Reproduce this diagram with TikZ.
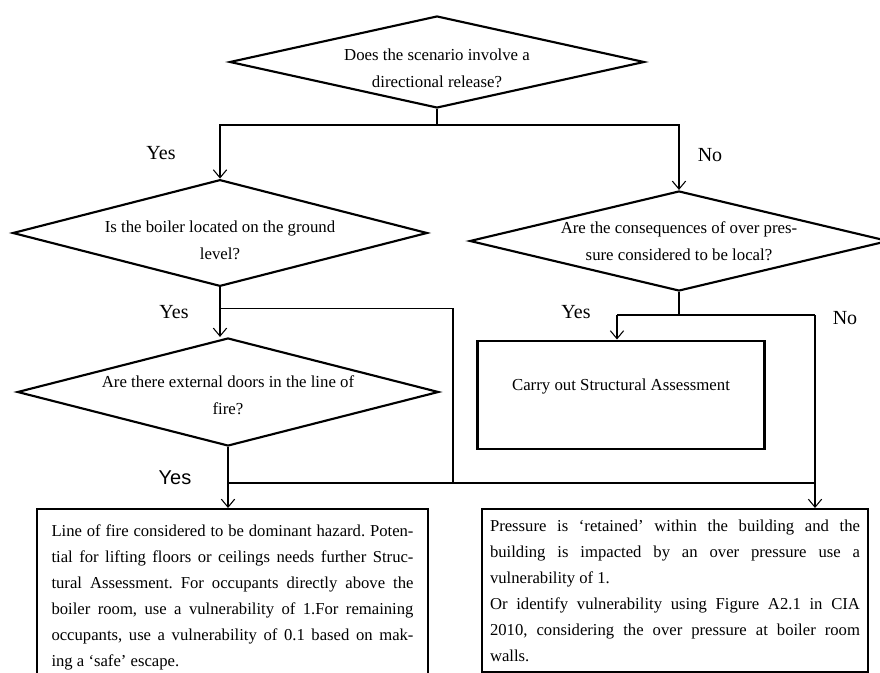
\documentclass[tikz,border=0pt]{standalone}
\usepackage{fontspec}
\setmainfont{Liberation Serif}
\newfontfamily\arialfont{Liberation Sans}
\usetikzlibrary{shapes.geometric, arrows.meta}

\begin{document}
\begin{tikzpicture}[x=0.75pt, y=-0.75pt, line width=0.8pt, >={Straight Barb[length=6pt, width=10pt]},
    decision/.style={diamond, draw, line width=1.6pt, aspect=4, inner xsep=-20pt, inner ysep=-6pt,
        align=center, font=\fontsize{12.6}{20}\selectfont},
    block/.style={rectangle, draw, line width=1.7pt, align=justify,
        font=\fontsize{12.5}{19.5}\selectfont\frenchspacing},
    answer/.style={font=\fontsize{15}{18}\selectfont}]
    \clip (0,0) rectangle (880,673);
    \fill[white] (0,0) rectangle (880,673);

    % questions
    \node[decision, minimum width=311pt, minimum height=69pt, text height=38pt] (d1) at (437,62)
        {Does the scenario involve a\\ directional release?};
    \node[decision, minimum width=311pt, minimum height=80pt, text height=39.5pt] (d2) at (220,233)
        {Is the boiler located on the ground\\ level?};
    \node[decision, minimum width=314pt, minimum height=75pt] (d3) at (679,241)
        {Are the consequences of over pres-\\ sure considered to be local?};
    \node[decision, minimum width=316pt, minimum height=81pt, text height=33.5pt] (d4) at (228,392)
        {Are there external doors in the line of\\ fire?};

    % outcomes
    \node[block, line width=2.2pt, align=center, minimum width=215pt, minimum height=81pt,
        text depth=15pt, font=\fontsize{12.6}{19.5}\selectfont] (carry) at (621,395) {Carry out Structural Assessment};
    \node[block, anchor=north, text width=271.5pt, inner xsep=11pt, inner ysep=12pt] (fire) at (232.5,508)
        {Line of fire considered to be dominant hazard. Poten-\linebreak tial for lifting floors or ceilings
        needs further Struc-\linebreak tural Assessment. For occupants directly above the\linebreak
        boiler room, use a vulnerability of 1.For remaining\linebreak occupants, use a vulnerability of
        0.1 based on mak-\linebreak ing a `safe' escape.};
    \node[block, anchor=north, text width=277.5pt, inner xsep=6pt, minimum height=122pt] (retain) at (675,508)
        {\leftskip=17.25pt Pressure is `retained' within the building and the\linebreak building is
        impacted by an over pressure use a\linebreak vulnerability of 1.\\ Or identify vulnerability
        using Figure A2.1 in CIA\linebreak 2010, considering the over pressure at boiler room\linebreak walls.};

    % answers
    \node[answer] (yes1) at (161,153) {Yes};
    \node[answer] (no1) at (710,155) {No};
    \node[answer] (yes2) at (174,312) {Yes};
    \node[answer] (yes3) at (576,312) {Yes};
    \node[answer] (no3) at (845,318) {No};
    \node[answer, font=\arialfont\fontsize{15}{18}\selectfont] (yes4) at (175,478) {Yes};

    \coordinate (split) at (437,125);
    \coordinate (skip) at (453,483);
    \coordinate (yesbr) at (617,315);
    \coordinate (nobr) at (815,315);

    \draw (d1.south) -- (split);
    \draw[->] (split) -| (d2.north);
    \draw[->] (split) -| (d3.north);
    \draw[->] (d2.south) -- (d2.south |- d4.north);
    \draw (d2.south) ++(0,21.5) -| (skip);
    \draw (d3.south) -- (d3.south |- nobr);
    \draw (yesbr) -- (nobr);
    \draw[->] (yesbr) -- (yesbr |- carry.north);
    \draw[->] (nobr) -- (nobr |- retain.north);
    \draw[->] (d4.south) -- (d4.south |- fire.north);
    \draw (d4.south |- skip) -- (skip -| nobr);
\end{tikzpicture}
\end{document}
